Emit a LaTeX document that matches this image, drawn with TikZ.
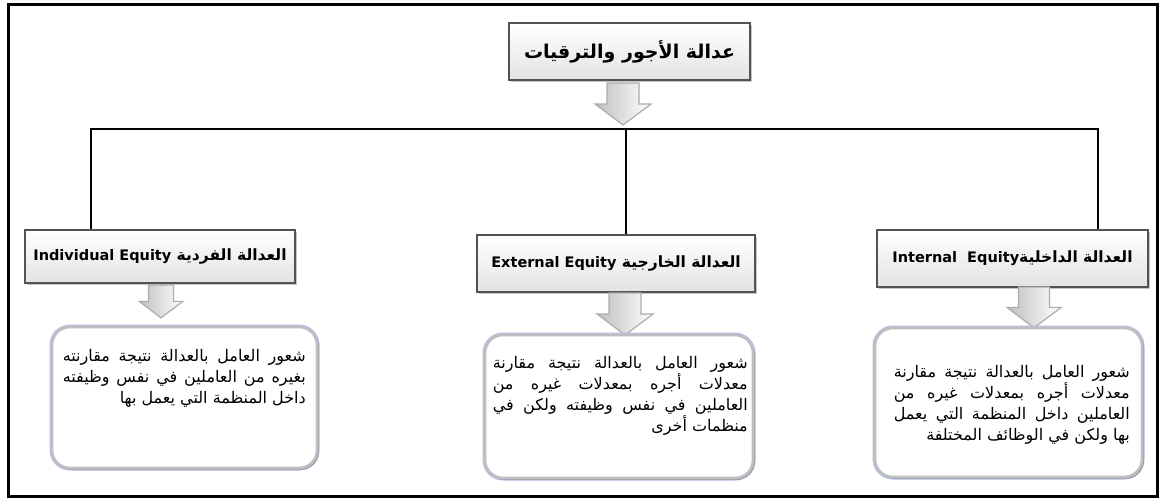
\documentclass[tikz,border=0pt]{standalone}
\usepackage{fontspec}
\setmainfont{DejaVu Sans}
\newfontfamily\arabicfont[Script=Arabic]{DejaVu Sans}
\TeXXeTstate=1
\usetikzlibrary{shadows}
\tikzset{
  frame/.style={draw=black, line width=3pt},
  conn/.style={draw=black, line width=1.6pt},
  hdr/.style={draw=gray!65!black, line width=1.6pt, top color=white, bottom color=gray!22,
    drop shadow={shadow xshift=2pt, shadow yshift=-2pt, opacity=.45}, inner sep=0pt},
  rnd/.style={preaction={draw=cyan!40!blue!30, line width=5pt}, draw=gray!50, line width=2.6pt,
    rounded corners=18pt, fill=white, drop shadow={shadow xshift=2pt, shadow yshift=-2pt, opacity=.5}, inner sep=0pt},
  barrowstyle/.style={draw=gray!65, line width=1.2pt, left color=gray!50, right color=white, line join=miter},
  barrow/.pic={\path[barrowstyle] (-16,0) -- (16,0) -- (16,21) -- (28,21) -- (0,42) -- (-28,21) -- (-16,21) -- cycle;},
  bodytext/.style={anchor=north east, inner sep=0pt, align=right, font=\arabicfont\fontsize{16}{21}\selectfont}
}
\newcommand{\hdrar}{\arabicfont\bfseries\fontsize{15.5}{19}\selectfont}
\newcommand{\hdrla}{\rmfamily\bfseries\fontsize{14.5}{17}\selectfont}
\begin{document}
\begin{tikzpicture}[x=1pt,y=-1pt]
\useasboundingbox[fill=white] (0,0) rectangle (1161,503);
\draw[frame] (8,5) rectangle (1157,496);

% title
\node[hdr, minimum width=241pt, minimum height=57pt] (title) at (629.5,51.5)
  {\arabicfont\bfseries\fontsize{19}{22}\selectfont\beginR عدالة الأجور والترقيات\endR};
\pic at (623,83) {barrow};

% headers
\node[hdr, minimum width=270pt, minimum height=53pt] (lh) at (160,256.5)
  {\hdrar\beginR العدالة الفردية \beginL{\hdrla Individual Equity}\endL\endR};
\node[hdr, minimum width=278pt, minimum height=57pt] (mh) at (616,263.5)
  {\hdrar\beginR العدالة الخارجية \beginL{\hdrla External Equity}\endL\endR};
\node[hdr, minimum width=271pt, minimum height=57pt] (rh) at (1012.5,258.5)
  {\hdrar\beginR العدالة الداخلية\beginL{\hdrla Internal\ \ Equity}\endL\endR};

% connectors
\coordinate (jl) at (91,129);
\coordinate (jm) at (626,129);
\coordinate (jr) at (1098,129);
\draw[conn] (jl |- lh.north) -- (jl) -- (jr) -- (jr |- rh.north);
\draw[conn] (jm) -- (jm |- mh.north);

% arrows
\pic[scale=0.78] at (161,285) {barrow};
\pic at (625,293) {barrow};
\pic[scale=0.97] at (1034,287) {barrow};

% rounded boxes
\node[rnd, minimum width=265pt, minimum height=141pt] (lb) at (184.5,397.5) {};
\node[rnd, minimum width=268pt, minimum height=143pt] (mb) at (619,406.5) {};
\node[rnd, minimum width=267pt, minimum height=149pt] (rb) at (1008.5,402.5) {};

\node[bodytext] (lt) at (306,349) {%
\hbox to 243pt{\beginR شعور العامل بالعدالة نتيجة مقارنته\endR}\\
\hbox to 243pt{\beginR بغيره من العاملين في نفس وظيفته\endR}\\
\hbox to 243pt{\hfill\beginR داخل المنظمة التي يعمل بها\endR}};

\node[bodytext] (mt) at (748,356) {%
\hbox to 255pt{\beginR شعور العامل بالعدالة نتيجة مقارنة\endR}\\
\hbox to 255pt{\beginR معدلات أجره بمعدلات غيره من\endR}\\
\hbox to 255pt{\beginR العاملين في نفس وظيفته ولكن في\endR}\\
\hbox to 255pt{\hfill\beginR منظمات أخرى\endR}};

\node[bodytext] (rt) at (1130,365) {%
\hbox to 236pt{\beginR شعور العامل بالعدالة نتيجة مقارنة\endR}\\
\hbox to 236pt{\beginR معدلات أجره بمعدلات غيره من\endR}\\
\hbox to 236pt{\beginR العاملين داخل المنظمة التي يعمل\endR}\\
\hbox to 236pt{\hfill\beginR بها ولكن في الوظائف المختلفة\endR}};
\end{tikzpicture}
\end{document}
